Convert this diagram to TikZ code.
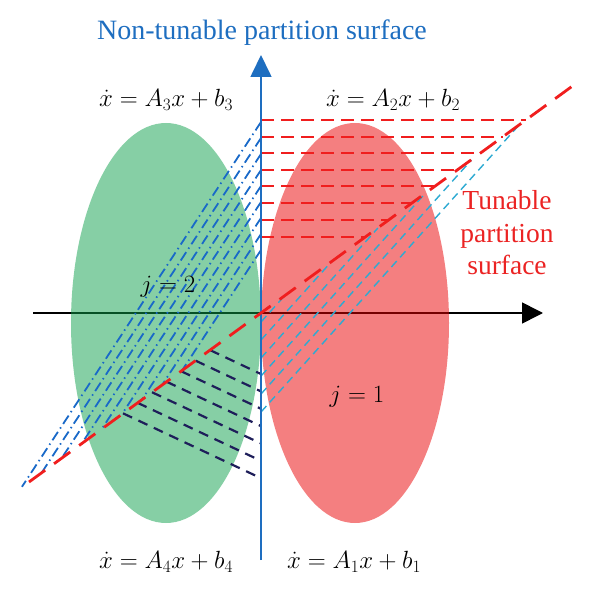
\documentclass[tikz,border=0pt]{standalone}
\usepackage{fontspec}
\setmainfont{Liberation Serif}
\usetikzlibrary{arrows.meta}
\definecolor{axisblue}{RGB}{30,110,192}
\definecolor{ddblue}{RGB}{25,105,200}
\definecolor{cyanh}{RGB}{45,170,210}
\definecolor{navyh}{RGB}{30,30,90}
\definecolor{redl}{RGB}{240,30,30}
\definecolor{redt}{RGB}{235,35,35}
\definecolor{greenbase}{RGB}{13,160,75}
\definecolor{redbase}{RGB}{233,0,1}
\tikzset{
  eqtext/.style={font=\fontsize{23}{27}\selectfont, inner sep=0pt},
  redh/.style={draw=redl, line width=1.8pt, dash pattern=on 13pt off 7pt},
  reddiag/.style={draw=redl, line width=2.8pt, dash pattern=on 20pt off 11pt},
  bluedd/.style={draw=ddblue, line width=1.8pt, dash pattern=on 10pt off 4pt on 1.5pt off 4pt},
  cyand/.style={draw=cyanh, line width=1.4pt, dash pattern=on 8pt off 5pt},
  navyd/.style={draw=navyh, line width=2.2pt, dash pattern=on 10pt off 7pt},
}
\begin{document}
\begin{tikzpicture}[x=1pt,y=-1pt]
\useasboundingbox (0,0) rectangle (600,596);
\coordinate (O) at (261,313);
% horizontal axis (under the translucent regions)
\coordinate (hL) at (33,313);
\coordinate (hR) at (543,313);
\draw[line width=1.6pt, -{Triangle[length=21pt,width=21pt]}] (hL) -- (hR);
% regions
\fill[greenbase, fill opacity=0.5] (166,323) ellipse [x radius=95, y radius=200];
\fill[redbase, fill opacity=0.5] (355,323) ellipse [x radius=94, y radius=200];
% red horizontal hatching
\foreach \yy in {120,137,153,170,186,203,220,237}{
  \pgfmathsetmacro\xx{261+(313-\yy)/0.727}
  \draw[redh] (261,\yy) -- (\xx,\yy);
}
% blue dash-dot hatching
\foreach \k in {0,...,8}{
  \pgfmathsetmacro\yy{122+16*\k}
  \pgfmathsetmacro\tb{(313-\yy)/(1.526-0.727)}
  \draw[bluedd] (261,\yy) -- ({261-\tb},{\yy+1.526*\tb});
}
% cyan hatching
\foreach \k in {0,...,5}{
  \pgfmathsetmacro\yy{322+18*\k}
  \pgfmathsetmacro\tb{(\yy-313)/(1.112-0.727)}
  \draw[cyand] (261,\yy) -- ({261+\tb},{\yy-1.112*\tb});
}
% navy hatching
\foreach \k in {0,...,6}{
  \pgfmathsetmacro\xs{210-14.5*\k}
  \pgfmathsetmacro\ys{313+0.727*(261-\xs)}
  \pgfmathsetmacro\ye{\ys+0.47*(261-\xs)}
  \draw[navyd] (\xs,\ys) -- (261,\ye);
}
% vertical axis
\coordinate (vB) at (261,560);
\coordinate (vT) at (261,55);
\draw[axisblue, line width=1.7pt, -{Triangle[length=22pt,width=21pt]}] (vB) -- (vT);
% tunable partition surface
\coordinate (dL) at (29,482);
\coordinate (dR) at (578,82);
\draw[reddiag] (dL) -- (dR);
% texts
\node[text=axisblue, font=\fontsize{28}{32}\selectfont, inner sep=0pt] (title) at (262,33) {Non-tunable partition surface};
\node[eqtext] (e3) at (166,100) {$\dot{x} = A_3x + b_3$};
\node[eqtext] (e2) at (393,100) {$\dot{x} = A_2x + b_2$};
\node[eqtext] (e4) at (166,562) {$\dot{x} = A_4x + b_4$};
\node[eqtext] (e1) at (354,562) {$\dot{x} = A_1x + b_1$};
\node[eqtext] (j2) at (168,287) {$j = 2$};
\node[eqtext] (j1) at (357,397) {$j = 1$};
\node[text=redt, font=\fontsize{27.5}{32.5}\selectfont, align=center, inner sep=0pt] (tun) at (507,233) {Tunable\\partition\\surface};
\end{tikzpicture}
\end{document}
